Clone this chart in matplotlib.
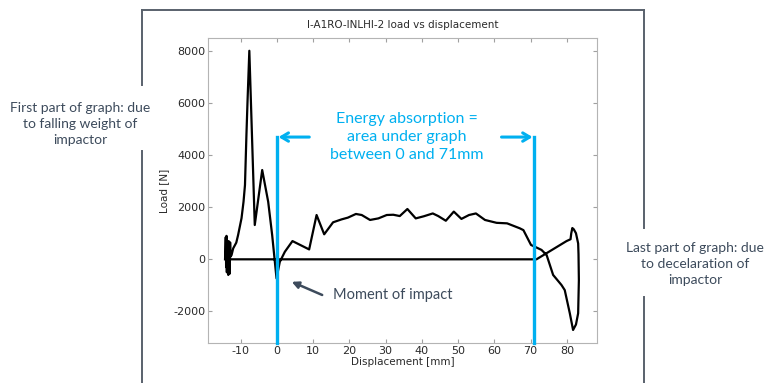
import numpy as np
import matplotlib
matplotlib.use("Agg")
import matplotlib.pyplot as plt
from matplotlib.lines import Line2D

plt.rcParams['axes.unicode_minus'] = False

# load-displacement trace, loop closes along the zero line
disp = [-14.3, -14.1, -14.0, -13.9, -13.8, -13.7, -13.6, -13.5, -13.4, -13.3, -13.2,
        -13.1, -13.0, -12.9, -12.8, -12.5, -12.05, -11.2, -10.7, -9.75, -9.2, -8.8, -8.4,
        -8.1, -7.6, -6.1, -4.05, -2.4, -1.3, -0.1, 0.8, 2.2, 4.3, 8.9, 10.95, 13.05,
        15.5, 17.8, 19.6, 21.8, 23.4, 25.7, 28.0, 30.3, 32.1, 33.9, 36.0, 38.3, 40.5,
        43.0, 44.5, 46.6, 48.8, 50.9, 53.0, 54.9, 57.4, 60.6, 63.5, 67.0, 68.0, 70.1,
        71.2, 73.0, 74.4, 76.2, 78.5, 79.4, 80.8, 81.7, 82.5, 83.1, 83.3, 83.2, 83.1,
        82.5, 81.9, 81.5, 81.2, 81.0, 79.9, 71.6, -13.9]
load = [0, 850, -300, 900, -500, 600, -200, 400, -600, 700, -100, 300, -550, 650,
        100, 165, 420, 640, 930, 1580, 2210, 2850, 4770, 6050, 8000, 1316, 3425, 2210, 930,
        -730, -100, 290, 700, 380, 1700, 960, 1420, 1530, 1600, 1740, 1700, 1510, 1570,
        1700, 1710, 1660, 1930, 1570, 1650, 1760, 1660, 1480, 1830, 1550, 1700, 1760,
        1510, 1400, 1380, 1190, 1120, 550, 480, 360, 165, -600, -985, -1180, -2070,
        -2710, -2500, -2070, -800, 200, 610, 1000, 1150, 1200, 1000, 770, 700, 0, 0]

xticks = [-10, 0, 10, 20, 30, 40, 50, 60, 70, 80]
yticks = [-2000, 0, 2000, 4000, 6000, 8000]

W, H = 771, 383
blue = '#00B0F0'
slate = '#3d4b5c'

fig = plt.figure(figsize=(W / 100, H / 100), dpi=100)

def fx(px):
    return px / W

def fy(py):
    return 1 - py / H

ax = fig.add_axes([fx(208), fy(343), (597 - 208) / W, (343 - 38) / H])
ax.plot(disp, load, color='black', lw=1.6, solid_joinstyle='round')
ax.set_xlim(-19.0, 88.3)
ax.set_ylim(-3210, 8490)
ax.set_xticks(xticks)
ax.set_yticks(yticks)
for s in ax.spines.values():
    s.set_color('#b4b4b4')
    s.set_linewidth(0.8)
ax.tick_params(direction='in', length=3, color='#a0a0a0', top=True, right=True,
               labelsize=8, labelcolor='#2a2a2a', pad=2)
ax.set_xlabel('Displacement [mm]', fontsize=7.5, color='#2a2a2a', labelpad=1)
ax.set_ylabel('Load [N]', fontsize=7.5, color='#2a2a2a', labelpad=3)
ax.set_title('I-A1RO-INLHI-2 load vs displacement', fontsize=7.5, color='#2a2a2a', pad=7)

# blue markers for the energy absorption window
ytop = 4690
for xv in [0, 71]:
    ax.plot([xv, xv], [-3210, ytop], color=blue, lw=2.4, clip_on=False, zorder=5)
ax.annotate('', xy=(-0.3, ytop), xytext=(9.7, ytop),
            arrowprops=dict(arrowstyle='->,head_length=0.5,head_width=0.3',
                            color=blue, lw=2.2, mutation_scale=10))
ax.annotate('', xy=(71.3, ytop), xytext=(61.2, ytop),
            arrowprops=dict(arrowstyle='->,head_length=0.5,head_width=0.3',
                            color=blue, lw=2.2, mutation_scale=10))
ax.text(35.9, ytop, 'Energy absorption =\narea under graph\nbetween 0 and 71mm',
        ha='center', va='center', color=blue, fontsize=11.5, family='Lato', linespacing=1.4)

# moment of impact
ax.annotate('', xy=(3.4, -820), xytext=(13.2, -1410),
            arrowprops=dict(arrowstyle='-|>', color=slate, lw=1.8, mutation_scale=10))
ax.text(15.4, -1380, 'Moment of impact', ha='left', va='center', color=slate,
        fontsize=10.5, family='Lato')

# screenshot frame
fc = '#59616c'
for xs, ys in [([142, 644], [10, 10]), ([142, 142], [10, 85]), ([142, 142], [151, 383]),
               ([644, 644], [10, 228]), ([644, 644], [297, 383])]:
    fig.add_artist(Line2D([fx(v) for v in xs], [fy(v) for v in ys],
                          color=fc, lw=1.4, transform=fig.transFigure))

fig.text(fx(80), fy(124), 'First part of graph: due\nto falling weight of\nimpactor',
         ha='center', va='center', color=slate, fontsize=10, family='Lato', linespacing=1.45)
fig.text(fx(695), fy(264), 'Last part of graph: due\nto decelaration of\nimpactor',
         ha='center', va='center', color=slate, fontsize=10, family='Lato', linespacing=1.45)

fig.savefig('out.png', dpi=100)
